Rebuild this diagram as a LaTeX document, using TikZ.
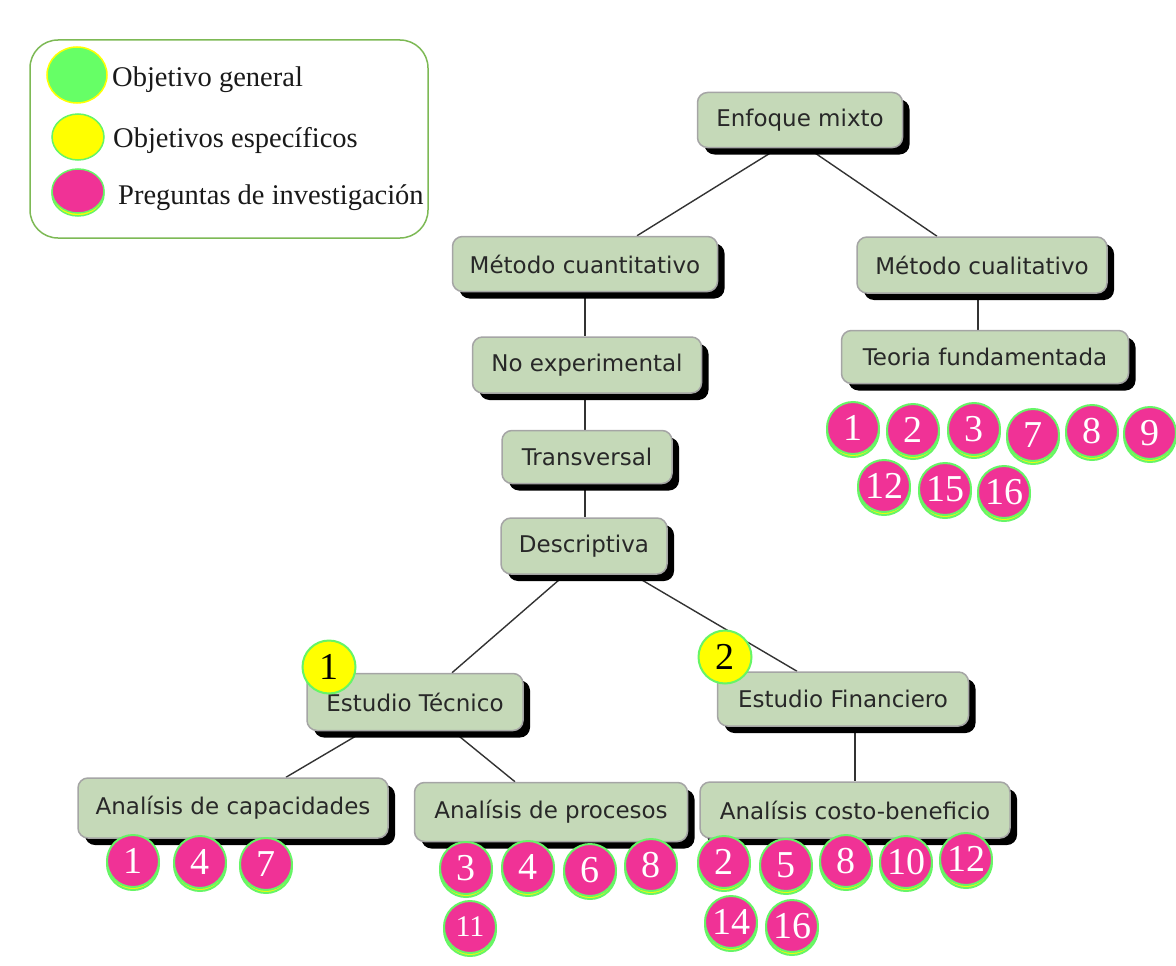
\documentclass[tikz,border=0pt]{standalone}
\usepackage{fontspec}
\setmainfont{Liberation Serif}
\newfontfamily\boxfont{DejaVu Sans}
\usetikzlibrary{shadows,backgrounds,shapes.geometric}
\definecolor{boxfill}{RGB}{197,217,184}
\definecolor{boxline}{RGB}{165,165,165}
\definecolor{pinkq}{RGB}{240,50,150}
\definecolor{lgreen}{RGB}{102,245,102}
\definecolor{ggreen}{RGB}{102,255,102}
\definecolor{yel}{RGB}{255,255,0}
\definecolor{legline}{RGB}{125,185,85}
\definecolor{txt}{RGB}{40,40,40}
\begin{document}
\begin{tikzpicture}[x=1pt,y=-1pt,
  box/.style={draw=boxline, line width=1.5pt, fill=boxfill, rounded corners=10pt,
    font=\boxfont\fontsize{23}{27}\selectfont, text=txt, inner sep=0pt,
    drop shadow={shadow xshift=7pt, shadow yshift=-7pt, fill=black, opacity=1}},
  conn/.style={draw=black!80, line width=1.4pt},
  pq/.style={circle, draw=lgreen, line width=2pt, fill=pinkq, minimum size=52pt, inner sep=0pt,
    text=white, font=\fontsize{38}{38}\selectfont,
    general shadow={shadow yshift=-3pt, fill=yel, draw=lgreen, line width=2pt}},
  oe/.style={circle, draw=lgreen, line width=2pt, fill=yel, minimum size=53pt, inner sep=0pt,
    text=black, font=\fontsize{38}{38}\selectfont},
  legtext/.style={anchor=base west, font=\fontsize{28.5}{30}\selectfont, inner sep=0pt, text=black!90}]
\useasboundingbox (0,0) rectangle (1176,966);

% legend
\node[draw=legline, line width=1.5pt, rounded corners=28pt, minimum width=398pt, minimum height=198pt, inner sep=0pt] (leg) at (229,139) {};
\node[ellipse, fill=ggreen, draw=yel, line width=1.5pt, minimum width=60pt, minimum height=56pt, inner sep=0pt] (lg1) at (77,75) {};
\node[ellipse, fill=yel, draw=lgreen, line width=1.5pt, minimum width=52pt, minimum height=46pt, inner sep=0pt] (lg2) at (78,137) {};
\node[ellipse, fill=pinkq, draw=lgreen, line width=1.5pt, minimum width=52pt, minimum height=44pt, inner sep=0pt,
  general shadow={shadow yshift=-3pt, fill=yel, draw=lgreen, line width=1.5pt}] (lg3) at (78,191) {};
\node[legtext] (lt1) at (112,87) {Objetivo general};
\node[legtext] (lt2) at (113,147) {Objetivos específicos};
\node[legtext] (lt3) at (118,204) {Preguntas de investigación};

% boxes
\node[box, minimum width=205pt, minimum height=55pt] (em) at (800,120) {Enfoque mixto};
\node[box, minimum width=265pt, minimum height=55pt] (mcuant) at (585,264) {Método cuantitativo};
\node[box, minimum width=250pt, minimum height=56pt] (mcual) at (982,265) {Método cualitativo};
\node[box, minimum width=229pt, minimum height=56pt] (noexp) at (587,365) {No experimental};
\node[box, minimum width=287pt, minimum height=53pt] (teoria) at (985,357) {Teoria fundamentada};
\node[box, minimum width=170pt, minimum height=53pt] (trans) at (587,457) {Transversal};
\node[box, minimum width=166pt, minimum height=56pt] (descr) at (584,546) {Descriptiva};
\node[box, minimum width=216pt, minimum height=57pt] (etec) at (415,702) {Estudio Técnico};
\node[box, minimum width=251pt, minimum height=54pt] (efin) at (843,699) {Estudio Financiero};
\node[box, minimum width=310pt, minimum height=60pt] (acap) at (233,808) {Analísis de capacidades};
\node[box, minimum width=273pt, minimum height=59pt] (aproc) at (551,812) {Analísis de procesos};
\node[box, minimum width=310pt, minimum height=56pt] (acb) at (855,810) {Analísis costo-beneficio};

% connectors
\begin{pgfonlayer}{background}
\draw[conn] ([xshift=-22pt]em.south) -- ([xshift=52pt]mcuant.north);
\draw[conn] ([xshift=8pt]em.south) -- ([xshift=-45pt]mcual.north);
\draw[conn] (mcuant.south) -- ([xshift=-2pt]noexp.north);
\draw[conn] ([xshift=-2pt]noexp.south) -- ([xshift=-2pt]trans.north);
\draw[conn] ([xshift=-2pt]trans.south) -- ([xshift=1pt]descr.north);
\draw[conn] ([xshift=-4pt]mcual.south) -- ([xshift=-7pt]teoria.north);
\draw[conn] ([xshift=-19pt]descr.south) -- ([xshift=37pt]etec.north);
\draw[conn] ([xshift=49pt]descr.south) -- ([xshift=-46pt]efin.north);
\draw[conn] ([xshift=-51pt]etec.south) -- ([xshift=53pt]acap.north);
\draw[conn] ([xshift=38pt]etec.south) -- ([xshift=-36pt]aproc.north);
\draw[conn] ([xshift=12pt]efin.south) -- (acb.north);
\end{pgfonlayer}

% specific objectives
\node[oe] (o1) at (329,667) {1};
\node[oe] (o2) at (725,657) {2};

% questions: teoria fundamentada
\node[pq] (tf1) at (853,428) {1};
\node[pq] (tf2) at (913,430) {2};
\node[pq] (tf3) at (974,429) {3};
\node[pq] (tf7) at (1033,435) {7};
\node[pq] (tf8) at (1092,431) {8};
\node[pq] (tf9) at (1150,433) {9};
\node[pq] (tf12) at (884,486) {12};
\node[pq] (tf15) at (945,489) {15};
\node[pq] (tf16) at (1004,492) {16};
% capacidades
\node[pq] (c1) at (133,861) {1};
\node[pq] (c4) at (200,862) {4};
\node[pq] (c7) at (266,864) {7};
% procesos
\node[pq] (p3) at (466,868) {3};
\node[pq] (p4) at (528,867) {4};
\node[pq] (p6) at (590,870) {6};
\node[pq] (p8) at (651,865) {8};
\node[pq, font=\fontsize{30}{30}\selectfont] (p11) at (470,927) {11};
% costo-beneficio
\node[pq] (b2) at (724,862) {2};
\node[pq] (b5) at (786,865) {5};
\node[pq] (b8) at (846,861) {8};
\node[pq] (b10) at (906,862) {10};
\node[pq] (b12) at (966,859) {12};
\node[pq] (b14) at (731,922) {14};
\node[pq] (b16) at (792,926) {16};
\end{tikzpicture}
\end{document}
